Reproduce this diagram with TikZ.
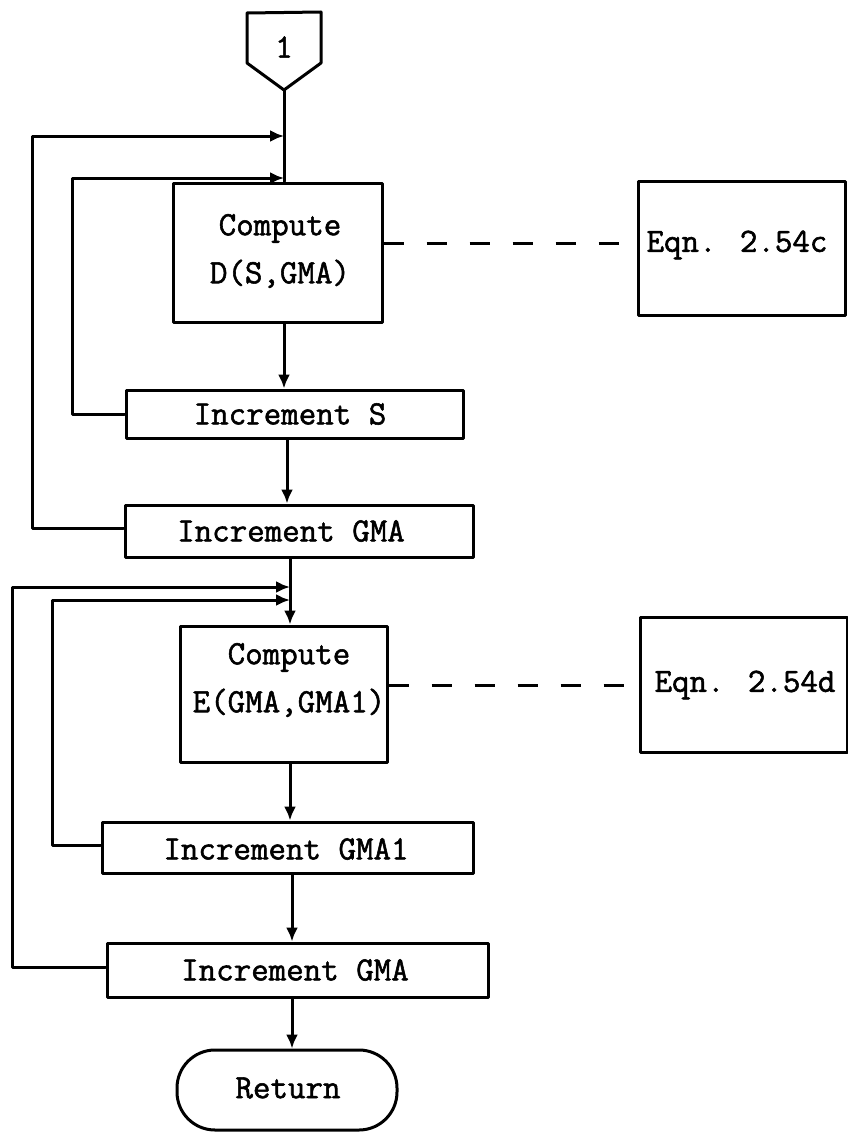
\documentclass[tikz,border=0pt]{standalone}
\usepackage{fontspec}
\newfontfamily\twfont[FakeBold=1.6]{Latin Modern Mono}
\usetikzlibrary{arrows.meta}
\begin{document}
\begin{tikzpicture}[x=1pt,y=-1pt,
  every node/.style={font=\twfont\fontsize{34}{48}\selectfont},
  ln/.style={line width=3pt,line join=round,line cap=round},
  box/.style={ln,draw,rectangle,inner sep=0pt},
  txt/.style={inner sep=0pt,align=center},
  arr/.style={ln,-{Latex[length=14pt,width=12pt]}},
  dashline/.style={ln,dash pattern=on 20pt off 23pt,line cap=butt}
]
\useasboundingbox (0,0) rectangle (847,1132);
% entry connector
\draw[ln] (247,13) -- (321,12) -- (321,63) -- (284,90) -- (247,63) -- cycle;
\node[txt] (one) at (284,47) {1};
\coordinate (c1tip) at (284,90);
% boxes
\node[box,minimum width=209pt,minimum height=139pt] (cD) at (277.5,252.5) {};
\node[txt] (cDt) at (280,251) {Compute\\D(S,GMA)};
\node[box,minimum width=337pt,minimum height=48pt] (incS) at (294.5,414) {};
\node[txt] (incSt) at (290,414) {Increment S};
\node[box,minimum width=348pt,minimum height=52pt] (incG) at (299,531) {};
\node[txt] (incGt) at (291,531) {Increment GMA};
\node[box,minimum width=207pt,minimum height=136pt] (cE) at (283.5,694) {};
\node[txt] (cEt) at (289,680) {Compute\\E(GMA,GMA1)};
\node[box,minimum width=371pt,minimum height=51pt] (incG1) at (287.5,847.5) {};
\node[txt] (incG1t) at (286,849) {Increment GMA1};
\node[box,minimum width=381pt,minimum height=54pt] (incG2) at (297.5,970) {};
\node[txt] (incG2t) at (295,970) {Increment GMA};
\node[box,rounded corners=38pt,minimum width=220pt,minimum height=80pt] (ret) at (287,1090) {};
\node[txt] (rett) at (288,1088) {Return};
% equation boxes
\node[box,minimum width=207pt,minimum height=134pt] (eqC) at (741.5,248) {};
\node[txt] (eqCt) at (737,245) {Eqn. 2.54c};
\node[box,minimum width=207pt,minimum height=135pt] (eqD) at (743.5,684.5) {};
\node[txt] (eqDt) at (745,685) {Eqn. 2.54d};
% main flow
\draw[ln] (c1tip) -- (cD.north -| c1tip);
\draw[arr] (cD.south -| 284,0) -- (incS.north -| 284,0);
\draw[arr] (incS.south -| 287,0) -- (incG.north -| 287,0);
\draw[arr] (incG.south -| 290,0) -- (cE.north -| 290,0);
\draw[arr] (cE.south -| 290,0) -- (incG1.north -| 290,0);
\draw[arr] (incG1.south -| 292,0) -- (incG2.north -| 292,0);
\draw[arr] (incG2.south -| 292,0) -- (ret.north -| 292,0);
% loops
\draw[arr] (incG.west |- 0,528) -- (32,528) -- (32,136) -- (284,136);
\draw[arr] (incS.west |- 0,414) -- (72,414) -- (72,178) -- (284,178);
\draw[arr] (incG2.west |- 0,967) -- (12,967) -- (12,587) -- (290,587);
\draw[arr] (incG1.west |- 0,845) -- (52,845) -- (52,600) -- (290,600);
% dashed references
\draw[dashline] (cD.east |- 0,243) -- (eqC.west |- 0,243);
\draw[dashline] (cE.east |- 0,685) -- (eqD.west |- 0,685);
\end{tikzpicture}
\end{document}
